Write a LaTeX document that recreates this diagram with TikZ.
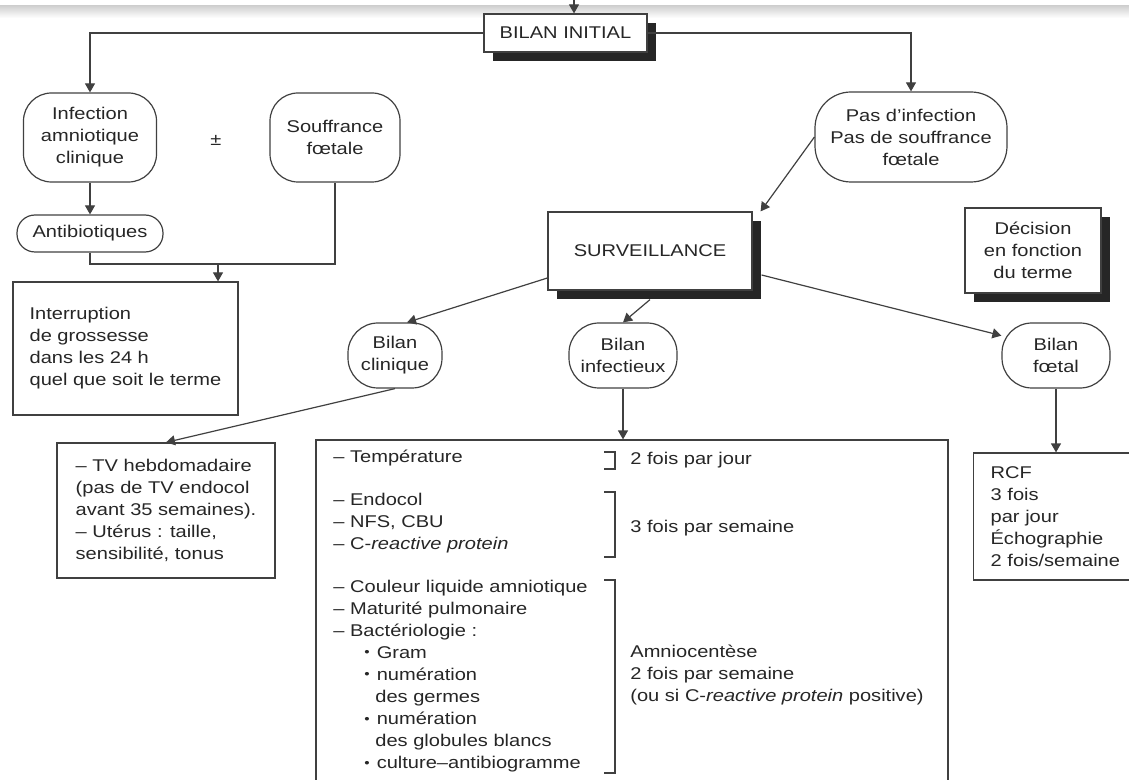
\documentclass[tikz,border=0pt]{standalone}
\usepackage{fontspec}
\setmainfont{Liberation Sans}[FakeStretch=1.18]
\usetikzlibrary{arrows.meta, shadows, calc}
\newcommand{\puce}{\hspace*{15.5pt}\raisebox{0.7pt}{\fontsize{6.5}{6}\selectfont•}\hspace{3.5pt}}
\newcommand{\suite}{\hspace*{21pt}}
\tikzset{
  base/.style={draw=black!75, line width=0.6pt, align=center, inner sep=2pt,
    text=black!85, font=\fontsize{8.5}{11}\selectfont},
  box/.style={base, rectangle},
  shadowbox/.style={base, rectangle, fill=white,
    drop shadow={shadow xshift=4.5pt, shadow yshift=-4.5pt, fill=black!85, opacity=1}},
  roundbox/.style={base, rectangle, rounded corners=14pt},
  pill/.style={base, rectangle, rounded corners=9pt},
  txt/.style={font=\fontsize{8.5}{11}\selectfont, text=black!85, inner sep=0pt, align=left},
  arr/.style={-{Triangle[length=4.5pt, width=5pt]}, line width=0.6pt, draw=black!75},
  link/.style={line width=0.6pt, draw=black!75},
}
\begin{document}
\begin{tikzpicture}[x=0.5pt, y=-0.5pt]
  \useasboundingbox (0,0) rectangle (1129,780);
  \clip (0,0) rectangle (1129,780);
  \shade[top color=black!18, bottom color=white] (0,6) rectangle (1129,18);

  % Bilan initial
  \coordinate (entry) at (574,-4);
  \node[shadowbox, minimum width=81.5pt, minimum height=19pt] (initial) at (565.5,33) {BILAN INITIAL};

  % Left branch
  \node[roundbox, minimum width=66.5pt, minimum height=44.5pt] (infection) at (90,137.5) {Infection\\amniotique\\clinique};
  \node[txt] (pm) at (216,140) {±};
  \node[roundbox, minimum width=65pt, minimum height=44.5pt] (souffrance) at (335,137.5) {Souffrance\\fœtale};
  \node[pill, minimum width=73pt, minimum height=18.5pt] (antibio) at (90,233.5) {Antibiotiques};
  \coordinate (join) at (218,264);
  \node[box, align=left, minimum width=112.5pt, minimum height=66.5pt] (interruption) at (125.5,348.5) {Interruption\\de grossesse\\dans les 24 h\\quel que soit le terme};

  % Right branch
  \node[roundbox, rounded corners=18pt, minimum width=96pt, minimum height=45pt] (pas) at (911,137) {Pas d’infection\\Pas de souffrance\\fœtale};
  \node[shadowbox, minimum width=102pt, minimum height=39pt] (surv) at (650,251) {SURVEILLANCE};
  \node[shadowbox, minimum width=68pt, minimum height=42.5pt] (decision) at (1033,250.5) {Décision\\en fonction\\du terme};

  % Bilans
  \node[roundbox, rounded corners=15pt, minimum width=47pt, minimum height=32.5pt] (clinique) at (395,355.5) {Bilan\\clinique};
  \node[roundbox, rounded corners=15pt, minimum width=54pt, minimum height=32.5pt] (infectieux) at (623,355.5) {Bilan\\infectieux};
  \node[roundbox, rounded corners=15pt, minimum width=54pt, minimum height=32.5pt] (foetal) at (1056,355.5) {Bilan\\fœtal};

  % Boxes at the bottom
  \node[box, align=left, minimum width=109pt, minimum height=67.5pt] (tv) at (166,510.5) {– TV hebdomadaire\\(pas de TV endocol\\avant 35 semaines).\\– Utérus : taille,\\sensibilité, tonus};
  \node[box, minimum width=316pt, minimum height=180pt] (infbox) at (632,620) {};
  \node[box, align=left, text width=65pt, inner xsep=8.5pt, minimum height=63.5pt, anchor=west] (rcf) at (973,516.5) {RCF\\3 fois\\par jour\\Échographie\\2 fois/semaine};

  % Inside the infection box
  \node[txt, anchor=west] (temp) at (333,458) {– Température};
  \node[txt, anchor=west] (endocol) at (333,523.5) {– Endocol\\– NFS, CBU\\– C-\emph{reactive protein}};
  \node[txt, anchor=west] (amnio) at (333,676) {– Couleur liquide amniotique\\– Maturité pulmonaire\\– Bactériologie :\\
    \puce Gram\\\puce numération\\\suite des germes\\
    \puce numération\\\suite des globules blancs\\\puce culture–antibiogramme};
  \node[txt, anchor=west] (jour) at (630,460) {2 fois par jour};
  \node[txt, anchor=west] (semaine) at (630,528) {3 fois par semaine};
  \node[txt, anchor=west] (amniocentese) at (630,675) {Amniocentèse\\2 fois par semaine\\(ou si C-\emph{reactive protein} positive)};
  \draw[link] (604,452) -- (615,452) -- (615,469) -- (604,469);
  \draw[link] (604,492) -- (615,492) -- (615,557) -- (604,557);
  \draw[link] (604,580) -- (615,580) -- (615,773) -- (604,773);

  % Connectors
  \draw[arr] (entry) -- (entry |- initial.north);
  \draw[arr] (initial.west) -| (infection.north);
  \draw[arr] (initial.east) -| (pas.north);
  \draw[arr] (infection.south) -- (antibio.north);
  \draw[link] (antibio.south) |- (join) -| (souffrance.south);
  \draw[arr] (join) -- (join |- interruption.north);
  \draw[arr] (pas.west) -- ([xshift=4pt]surv.north east);
  \draw[arr] ([yshift=-13.5pt]surv.west) -- (clinique.70);
  \draw[arr] ([yshift=-4.5pt]surv.south) -- (infectieux.north);
  \draw[arr] ([xshift=4.5pt, yshift=-12pt]surv.east) -- (foetal.160);
  \draw[arr] (clinique.south) -- (tv.north);
  \draw[arr] (infectieux.south) -- (infectieux.south |- infbox.north);
  \draw[arr] (foetal.south) -- (foetal.south |- rcf.north);
\end{tikzpicture}
\end{document}
